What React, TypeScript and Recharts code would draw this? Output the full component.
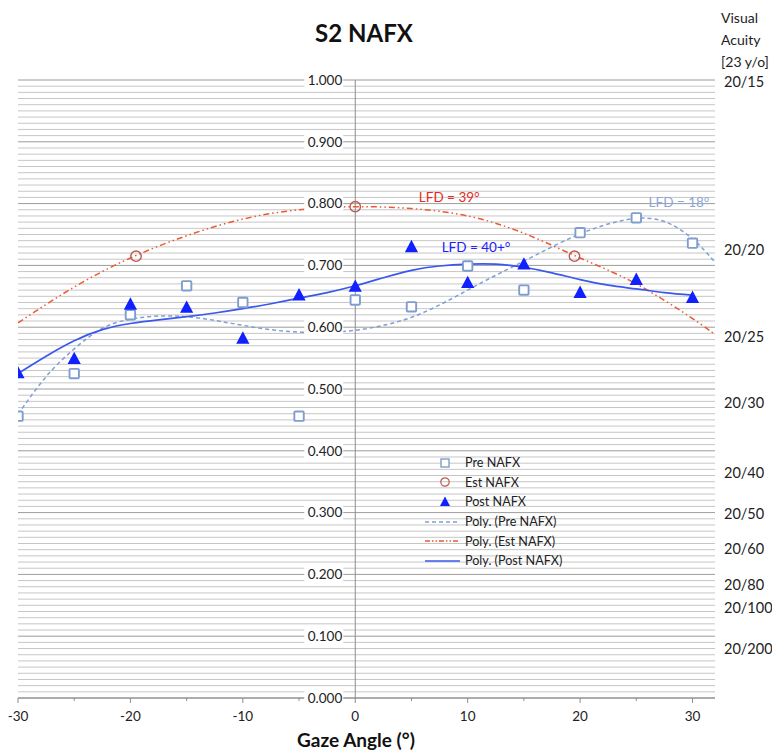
import React from 'react';
import {
  ComposedChart,
  XAxis,
  YAxis,
  CartesianGrid,
  Scatter,
  Line,
  Legend,
  ReferenceLine,
  ReferenceDot,
} from 'recharts';

// ---------- data ----------
const gazeAngles = [-30, -25, -20, -15, -10, -5, 0, 5, 10, 15, 20, 25, 30];
const preNafx = [0.456, 0.525, 0.62, 0.667, 0.64, 0.456, 0.644, 0.633, 0.699, 0.66, 0.753, 0.777, 0.736];
const postNafx = [0.526, 0.549, 0.637, 0.632, 0.582, 0.652, 0.666, 0.73, 0.672, 0.702, 0.656, 0.677, 0.648];

const estAngles = [-19.5, 0, 19.5];
const estNafx = [0.715, 0.795, 0.715];

// trend lines
const preTrendAngles = [-30, -27.5, -25, -22.5, -20, -17.5, -15, -12.5, -10, -7.5, -5, -2.5, 0, 2.5, 5, 7.5, 10, 12.5, 15, 17.5, 20, 22.5, 25, 27.5, 30, 32];
const preTrendValues = [0.459, 0.52, 0.565, 0.598, 0.613, 0.618, 0.617, 0.611, 0.603, 0.596, 0.592, 0.592, 0.595, 0.603, 0.616, 0.636, 0.66, 0.684, 0.707, 0.73, 0.751, 0.767, 0.776, 0.771, 0.743, 0.705];

const postTrendAngles = [-30, -27.5, -25, -22.5, -20, -17.5, -15, -12.5, -10, -7.5, -5, -2.5, 0, 2.5, 5, 7.5, 10, 12.5, 15, 17.5, 20, 22.5, 25, 27.5, 30];
const postTrendValues = [0.525, 0.553, 0.578, 0.596, 0.606, 0.612, 0.617, 0.623, 0.63, 0.638, 0.647, 0.656, 0.667, 0.68, 0.692, 0.699, 0.702, 0.702, 0.697, 0.688, 0.677, 0.668, 0.662, 0.656, 0.652];

const estTrendAngles = [-30, -25, -20, -15, -10, -5, 0, 5, 10, 15, 20, 25, 30, 32];
const estTrendValues = [0.607, 0.665, 0.712, 0.748, 0.775, 0.79, 0.795, 0.792, 0.78, 0.752, 0.712, 0.67, 0.614, 0.588];

// axis ticks
const xTicks = [-30, -25, -20, -15, -10, -5, 0, 5, 10, 15, 20, 25, 30];
const yTicks = [0, 0.1, 0.2, 0.3, 0.4, 0.5, 0.6, 0.7, 0.8, 0.9, 1.0];
const acuityLabels = ['20/15', '20/20', '20/25', '20/30', '20/40', '20/50', '20/60', '20/80', '20/100', '20/200'];
const acuityPositions = [0.997, 0.725, 0.584, 0.477, 0.364, 0.298, 0.242, 0.183, 0.146, 0.08];

const minorGrid = Array.from({ length: 101 }, (_, i) => i / 100).filter((v, i) => i % 10 !== 0);

// ---------- layout ----------
const W = 772;
const H = 751;
const MARGIN = { top: 80, right: 0, bottom: 23, left: 17 };
const X_AXIS_H = 30;
const LEFT_AXIS_W = 1;
const RIGHT_AXIS_W = 57;
const X_MIN = -30;
const X_MAX = 32;
const PLOT_LEFT = MARGIN.left + LEFT_AXIS_W;
const PLOT_RIGHT = W - MARGIN.right - RIGHT_AXIS_W;
const PLOT_BOTTOM = H - MARGIN.bottom - X_AXIS_H;
const X_ZERO = PLOT_LEFT + ((0 - X_MIN) / (X_MAX - X_MIN)) * (PLOT_RIGHT - PLOT_LEFT);

const FONT = 'Lato, "Open Sans", sans-serif';
const PRE_COLOR = '#7f9dd0';
const PRE_LINE = '#7f9fd6';
const EST_COLOR = '#c0574f';
const EST_LINE = '#ec5a30';
const POST_COLOR = '#1020ff';
const POST_LINE = '#3a58ee';
const AXIS_COLOR = '#8c8c8c';
const TEXT = '#222';

const toPts = (xs: number[], ys: number[]) => xs.map((x, i) => ({ x, y: ys[i] }));
const preData = toPts(gazeAngles, preNafx);
const postData = toPts(gazeAngles, postNafx);
const estData = toPts(estAngles, estNafx);
const preTrend = toPts(preTrendAngles, preTrendValues);
const postTrend = toPts(postTrendAngles, postTrendValues);
const estTrend = toPts(estTrendAngles, estTrendValues);

// ---------- shapes ----------
const SquareShape = (props: any) => {
  const { cx, cy } = props;
  return <rect x={cx - 4.7} y={cy - 4.7} width={9.4} height={9.4} rx={1} fill="#fff" stroke={PRE_COLOR} strokeWidth={1.9} />;
};
const CircleShape = (props: any) => {
  const { cx, cy } = props;
  return <circle cx={cx} cy={cy} r={5.2} fill="none" stroke={EST_COLOR} strokeWidth={1.4} />;
};
const TriangleShape = (props: any) => {
  const { cx, cy } = props;
  return <path d={`M${cx},${cy - 7} L${cx + 6.6},${cy + 5.4} L${cx - 6.6},${cy + 5.4} Z`} fill={POST_COLOR} />;
};

// ---------- ticks ----------
const renderLeftTick = (props: any) => {
  const { y, payload } = props;
  return (
    <g key={`lt-${payload.value}`}>
      <rect x={X_ZERO - 51} y={y - 8} width={39} height={16} fill="#fff" />
      <text x={X_ZERO - 13} y={y} dy="0.35em" textAnchor="end" fontSize={13.5} fontFamily={FONT} fill={TEXT}>
        {Number(payload.value).toFixed(3)}
      </text>
    </g>
  );
};

const renderRightTick = (props: any) => {
  const { y, payload } = props;
  const idx = acuityPositions.indexOf(payload.value);
  return (
    <text key={`rt-${payload.value}`} x={PLOT_RIGHT + 9} y={y} dy="0.35em" textAnchor="start" fontSize={14.5} fontFamily={FONT} fill={TEXT}>
      {idx >= 0 ? acuityLabels[idx] : ''}
    </text>
  );
};

const BottomTick = (props: any) => {
  const { x, payload } = props;
  const major = payload.value % 10 === 0;
  return (
    <g>
      <line x1={x} x2={x} y1={PLOT_BOTTOM} y2={PLOT_BOTTOM + (major ? 5 : 3)} stroke={AXIS_COLOR} />
      {major && (
        <text x={x} y={PLOT_BOTTOM + 18} dy="0.35em" textAnchor="middle" fontSize={13.5} fontFamily={FONT} fill={TEXT}>
          {payload.value}
        </text>
      )}
    </g>
  );
};

// ---------- legend ----------
const legendItems = [
  { name: 'Pre NAFX', kind: 'square' },
  { name: 'Est NAFX', kind: 'circle' },
  { name: 'Post NAFX', kind: 'triangle' },
  { name: 'Poly. (Pre NAFX)', kind: 'dash' },
  { name: 'Poly. (Est NAFX)', kind: 'dashdot' },
  { name: 'Poly. (Post NAFX)', kind: 'solid' },
];

const LegendIcon = ({ kind }: { kind: string }) => {
  const cx = 22;
  const cy = 10;
  let el: React.ReactNode = null;
  if (kind === 'square') el = <rect x={cx - 4} y={cy - 4} width={8} height={8} fill="#fff" stroke={PRE_COLOR} strokeWidth={1.4} />;
  if (kind === 'circle') el = <circle cx={cx} cy={cy} r={4.2} fill="none" stroke={EST_COLOR} strokeWidth={1.2} />;
  if (kind === 'triangle') el = <path d={`M${cx},${cy - 5.5} L${cx + 5},${cy + 4} L${cx - 5},${cy + 4} Z`} fill={POST_COLOR} />;
  if (kind === 'dash') el = <line x1={2} x2={37} y1={cy} y2={cy} stroke={PRE_LINE} strokeWidth={1.4} strokeDasharray="4 3" />;
  if (kind === 'dashdot') el = <line x1={2} x2={37} y1={cy} y2={cy} stroke={EST_LINE} strokeWidth={1.4} strokeDasharray="5 2 1.5 2 1.5 2" />;
  if (kind === 'solid') el = <line x1={2} x2={37} y1={cy} y2={cy} stroke={POST_LINE} strokeWidth={1.6} />;
  return (
    <svg width={40} height={20} style={{ display: 'block' }}>
      {el}
    </svg>
  );
};

const LegendContent = () => (
  <div style={{ fontFamily: FONT, fontSize: 12.6, color: TEXT }}>
    {legendItems.map((it) => (
      <div key={it.name} style={{ display: 'flex', alignItems: 'center', height: 19.6 }}>
        <LegendIcon kind={it.kind} />
        <span style={{ marginLeft: 2, whiteSpace: 'nowrap' }}>{it.name}</span>
      </div>
    ))}
  </div>
);

export default function App() {
  return (
    <div style={{ position: 'absolute', left: 0, top: 0, width: W, height: H, background: '#fff' }}>
      <ComposedChart width={W} height={H} margin={MARGIN}>
        <CartesianGrid yAxisId="left" vertical={false} horizontalValues={minorGrid} stroke="#c6c6c6" strokeWidth={1} />
        <CartesianGrid yAxisId="left" vertical={false} horizontalValues={yTicks} stroke="#9c9c9c" strokeWidth={1} />
        <XAxis
          type="number"
          dataKey="x"
          domain={[X_MIN, X_MAX]}
          ticks={xTicks}
          interval={0}
          allowDataOverflow
          height={X_AXIS_H}
          stroke={AXIS_COLOR}
          tickLine={false}
          tick={<BottomTick />}
        />
        <YAxis
          yAxisId="left"
          type="number"
          domain={[0, 1]}
          ticks={yTicks}
          interval={0}
          width={LEFT_AXIS_W}
          axisLine={false}
          tickLine={false}
          tick={renderLeftTick}
        />
        <YAxis
          yAxisId="right"
          orientation="right"
          type="number"
          domain={[0, 1]}
          ticks={acuityPositions}
          interval={0}
          width={RIGHT_AXIS_W}
          axisLine={false}
          tickLine={false}
          tick={renderRightTick}
        />
        <ReferenceLine yAxisId="left" x={0} stroke={AXIS_COLOR} strokeWidth={1} />
        <Line
          yAxisId="right"
          data={estTrend}
          dataKey="y"
          name="Poly. (Est NAFX)"
          type="natural"
          stroke={EST_LINE}
          strokeWidth={1.5}
          strokeDasharray="6 3 1.5 3 1.5 3"
          dot={false}
          activeDot={false}
          isAnimationActive={false}
        />
        <Line
          yAxisId="left"
          data={preTrend}
          dataKey="y"
          name="Poly. (Pre NAFX)"
          type="natural"
          stroke={PRE_LINE}
          strokeWidth={1.5}
          strokeDasharray="4 3"
          dot={false}
          activeDot={false}
          isAnimationActive={false}
        />
        <Line
          yAxisId="left"
          data={postTrend}
          dataKey="y"
          name="Poly. (Post NAFX)"
          type="natural"
          stroke={POST_LINE}
          strokeWidth={1.7}
          dot={false}
          activeDot={false}
          isAnimationActive={false}
        />
        <Scatter yAxisId="left" data={preData} dataKey="y" name="Pre NAFX" shape={<SquareShape />} isAnimationActive={false} />
        <Scatter yAxisId="left" data={estData} dataKey="y" name="Est NAFX" shape={<CircleShape />} isAnimationActive={false} />
        <Scatter yAxisId="left" data={postData} dataKey="y" name="Post NAFX" shape={<TriangleShape />} isAnimationActive={false} />
        <ReferenceDot
          yAxisId="left"
          x={8.36}
          y={0.811}
          r={0}
          fill="none"
          stroke="none"
          ifOverflow="visible"
          label={{ value: 'LFD = 39°', position: 'center', fill: '#e52b1e', fontSize: 13.5, fontFamily: FONT }}
        />
        <ReferenceDot
          yAxisId="left"
          x={10.74}
          y={0.729}
          r={0}
          fill="none"
          stroke="none"
          ifOverflow="visible"
          label={{ value: 'LFD = 40+°', position: 'center', fill: '#2020ff', fontSize: 13.5, fontFamily: FONT }}
        />
        <ReferenceDot
          yAxisId="left"
          x={28.8}
          y={0.803}
          r={0}
          fill="none"
          stroke="none"
          ifOverflow="visible"
          label={{ value: 'LFD = 18°', position: 'center', fill: '#8ea6d8', fontSize: 13.5, fontFamily: FONT }}
        />
        <Legend
          layout="horizontal"
          verticalAlign="middle"
          align="center"
          content={<LegendContent />}
          wrapperStyle={{ left: 423, top: 453, width: 170, height: 120 }}
        />
      </ComposedChart>
      <div
        style={{
          position: 'absolute',
          left: 264,
          top: 18,
          width: 200,
          textAlign: 'center',
          fontFamily: FONT,
          fontWeight: 700,
          fontSize: 24,
          lineHeight: '30px',
          color: '#111',
        }}
      >
        S2 NAFX
      </div>
      <div
        style={{
          position: 'absolute',
          left: 721,
          top: 7,
          fontFamily: FONT,
          fontSize: 14,
          lineHeight: '22px',
          color: TEXT,
          whiteSpace: 'nowrap',
        }}
      >
        Visual
        <br />
        Acuity
        <br />
        [23 y/o]
      </div>
      <div
        style={{
          position: 'absolute',
          left: 256,
          top: 728,
          width: 200,
          textAlign: 'center',
          fontFamily: FONT,
          fontWeight: 700,
          fontSize: 19,
          lineHeight: '24px',
          color: '#111',
        }}
      >
        Gaze Angle (°)
      </div>
    </div>
  );
}
